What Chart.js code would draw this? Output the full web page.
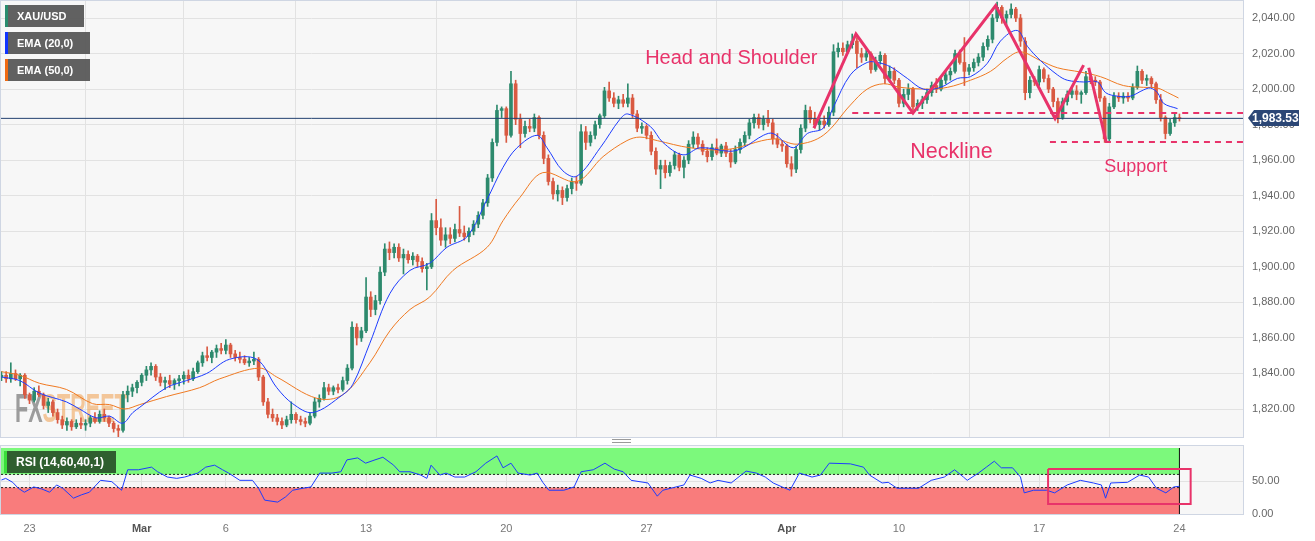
<!DOCTYPE html>
<html>
<head>
<meta charset="utf-8">
<script src="https://cdn.jsdelivr.net/npm/chart.js@4.4.0/dist/chart.umd.min.js"></script>
<style>
  body { margin: 0; background: #fff; width: 1315px; height: 541px; overflow: hidden; }
  #main { position: absolute; left: 0; top: 0; }
  #rsi { position: absolute; left: 0; top: 440px; }
  .grip { position: absolute; left: 612px; top: 439px; width: 19px; height: 2px; border-top: 1px solid #9a9a9a; border-bottom: 1px solid #9a9a9a; }
</style>
</head>
<body>
<canvas id="main" width="1315" height="440"></canvas>
<div class="grip"></div>
<canvas id="rsi" width="1315" height="101"></canvas>
<script>
const FONT = '"Liberation Sans", Arial, sans-serif';

// x = candle index (4h bars, 6 per trading day, index 0 = Feb 22)
const dayTicks = [6, 30, 48, 78, 108, 138, 168, 192, 222, 252];
const dayLabels = ['23', 'Mar', '6', '13', '20', '27', 'Apr', '10', '17', '24'];
const priceTicks = [1820, 1840, 1860, 1880, 1900, 1920, 1940, 1960, 1980, 2000, 2020, 2040];
const rsiTicks = [0, 50];

// one row per trading day
const open = [
  1838,1839,1837,1840,1837,1839,
  1828,1825,1830,1828,1822,1824,
  1818,1814,1811,1813,1810,1812,
  1811,1812,1815,1813,1817,1815,
  1812,1809,1808,1828,1830,1832,
  1835,1839,1842,1844,1838,1835,
  1836,1834,1836,1837,1839,1837,
  1841,1846,1850,1849,1852,1854,
  1853,1856,1851,1849,1848,1846,
  1847,1848,1838,1824,1817,1815,
  1813,1811,1814,1817,1814,1813,
  1812,1816,1824,1826,1832,1830,
  1832,1831,1836,1843,1866,1860,
  1864,1883,1876,1881,1897,1910,
  1908,1911,1905,1907,1904,1906,
  1903,1899,1900,1926,1922,1915,
  1918,1916,1921,1919,1917,1920,
  1924,1929,1936,1950,1970,1988,
  1989,1974,2003,1983,1975,1979,
  1978,1984,1974,1961,1948,1941,
  1943,1939,1944,1948,1947,1976,
  1970,1974,1980,1985,1999,1995,
  1992,1994,1992,1995,1986,1978,
  1979,1974,1965,1955,1957,1953,
  1957,1963,1956,1960,1969,1973,
  1969,1965,1962,1967,1964,1968,
  1964,1959,1966,1970,1974,1981,
  1984,1980,1983,1981,1972,1969,
  1968,1958,1955,1966,1978,1988,
  1983,1980,1982,1980,1987,2021,
  2023,2021,2025,2027,2020,2018,
  2020,2011,2016,2019,2006,2010,
  2005,1992,1997,2000,1990,1992,
  1994,1998,2002,2000,2005,2008,
  2010,2020,2015,2010,2012,2015,
  2018,2024,2028,2040,2046,2040,
  2042,2045,2040,2027,1998,2005,
  2004,2011,2006,2000,1993,1984,
  1993,1997,1999,1997,1998,2007,
  2005,2004,1995,1972,1990,1996,
  1995,1996,1995,2001,2010,2005,
  2006,2003,1994,1984,1975,1981,
  1984
];
const high = [
  1841,1841,1846,1842,1840,1840,
  1829,1832,1833,1829,1826,1825,
  1820,1816,1815,1814,1814,1815,
  1814,1816,1818,1819,1820,1816,
  1813,1811,1830,1833,1834,1836,
  1840,1844,1846,1845,1840,1838,
  1839,1837,1839,1841,1842,1843,
  1847,1852,1855,1853,1856,1857,
  1859,1857,1853,1852,1850,1849,
  1852,1849,1839,1826,1820,1817,
  1815,1816,1824,1818,1816,1815,
  1818,1826,1828,1835,1834,1833,
  1834,1838,1845,1869,1868,1866,
  1894,1886,1884,1900,1913,1914,
  1913,1913,1910,1909,1908,1907,
  1905,1902,1930,1938,1927,1922,
  1922,1924,1934,1923,1922,1926,
  1931,1938,1952,1972,1991,1990,
  1990,2010,2005,1986,1982,1983,
  1986,1985,1976,1963,1950,1946,
  1945,1946,1950,1951,1980,1979,
  1976,1982,1986,2001,2004,1998,
  1996,1997,2003,1997,1988,1981,
  1980,1976,1967,1960,1960,1959,
  1965,1964,1962,1971,1976,1975,
  1971,1967,1969,1972,1969,1970,
  1966,1968,1972,1976,1983,1986,
  1986,1985,1988,1983,1975,1971,
  1969,1962,1968,1980,1991,1990,
  1987,1984,1985,1990,2025,2026,
  2026,2027,2031,2029,2023,2022,
  2021,2018,2021,2020,2013,2012,
  2006,2000,2003,2001,1994,1996,
  2000,2004,2006,2007,2010,2012,
  2022,2022,2029,2014,2017,2020,
  2026,2030,2042,2049,2047,2044,
  2048,2046,2042,2029,2007,2007,
  2013,2012,2008,2001,1995,1995,
  1999,2001,2002,1999,2010,2009,
  2007,2005,1996,1992,1998,1998,
  1998,1998,2003,2013,2011,2008,
  2007,2004,1997,1985,1983,1986,
  1986
];
const low = [
  1836,1835,1835,1836,1833,1826,
  1823,1824,1827,1820,1818,1816,
  1812,1809,1808,1808,1809,1809,
  1808,1810,1812,1812,1813,1810,
  1807,1804,1807,1824,1827,1829,
  1833,1836,1839,1836,1833,1831,
  1832,1831,1833,1834,1835,1836,
  1840,1844,1847,1846,1849,1851,
  1851,1849,1847,1846,1845,1844,
  1845,1836,1822,1815,1813,1811,
  1809,1810,1812,1812,1811,1810,
  1811,1815,1821,1825,1828,1828,
  1829,1830,1834,1842,1856,1858,
  1863,1872,1873,1879,1895,1904,
  1905,1903,1896,1902,1901,1900,
  1897,1887,1899,1918,1912,1911,
  1913,1914,1917,1915,1914,1918,
  1922,1927,1934,1948,1968,1984,
  1970,1973,1980,1967,1973,1976,
  1976,1972,1958,1946,1938,1937,
  1935,1937,1941,1943,1946,1966,
  1968,1972,1978,1984,1993,1990,
  1989,1990,1990,1984,1976,1975,
  1972,1963,1952,1944,1950,1951,
  1955,1954,1950,1958,1967,1967,
  1963,1959,1960,1963,1962,1962,
  1956,1958,1964,1968,1972,1978,
  1978,1977,1979,1969,1967,1965,
  1956,1951,1953,1964,1976,1981,
  1978,1977,1978,1979,1985,2018,
  2019,2020,2023,2012,2015,2016,
  2009,2010,2014,2003,2004,2003,
  1990,1990,1994,1988,1988,1989,
  1992,1996,1998,1999,2003,2005,
  2009,2014,2002,2008,2010,2013,
  2016,2022,2026,2038,2037,2036,
  2040,2038,2024,1994,1995,2002,
  2002,2004,1998,1990,1981,1983,
  1991,1995,1994,1992,1997,2003,
  2002,1993,1970,1971,1989,1993,
  1992,1993,1994,2000,2003,2002,
  2001,1992,1982,1972,1974,1979,
  1982
];
const close = [
  1839,1837,1840,1837,1839,1828,
  1825,1830,1828,1822,1824,1818,
  1814,1811,1813,1810,1812,1811,
  1812,1815,1813,1817,1815,1812,
  1809,1808,1828,1830,1832,1835,
  1839,1842,1844,1838,1835,1836,
  1834,1836,1837,1839,1837,1841,
  1846,1850,1849,1852,1854,1853,
  1856,1851,1849,1848,1846,1847,
  1848,1838,1824,1817,1815,1813,
  1811,1814,1817,1814,1813,1812,
  1816,1824,1826,1832,1830,1832,
  1831,1836,1843,1866,1860,1864,
  1883,1876,1881,1897,1910,1908,
  1911,1905,1907,1904,1906,1903,
  1899,1900,1926,1922,1915,1918,
  1916,1921,1919,1917,1920,1924,
  1929,1936,1950,1970,1988,1989,
  1974,2003,1983,1975,1979,1978,
  1984,1974,1961,1948,1941,1943,
  1939,1944,1948,1947,1976,1970,
  1974,1980,1985,1999,1995,1992,
  1994,1992,1995,1986,1978,1979,
  1974,1965,1955,1957,1953,1957,
  1963,1956,1960,1969,1973,1969,
  1965,1962,1967,1964,1968,1964,
  1959,1966,1970,1974,1981,1984,
  1980,1983,1981,1972,1969,1968,
  1958,1955,1966,1978,1988,1983,
  1980,1982,1980,1987,2021,2023,
  2021,2025,2027,2020,2018,2020,
  2011,2016,2019,2006,2010,2005,
  1992,1997,2000,1990,1992,1994,
  1998,2002,2000,2005,2008,2010,
  2020,2015,2010,2012,2015,2018,
  2024,2028,2040,2046,2040,2042,
  2045,2040,2027,1998,2005,2004,
  2011,2006,2000,1993,1984,1993,
  1997,1999,1997,1998,2007,2005,
  2004,1995,1972,1990,1996,1995,
  1996,1995,2001,2010,2005,2006,
  2003,1994,1984,1975,1981,1984,
  1983.53
];

// moving averages (candle index, price)
const ema20Idx = [0,3.9,8.1,13.9,16.7,20.3,23.1,25.9,28.1,29.6,35.3,39.6,43.9,48.8,54.6,58.9,62.3,66.6,73,75.2,
  78.8,83.1,87.4,91.6,95.3,99.6,103.9,107.3,110.3,114.6,116.7,120.1,123.1,128.1,132.3,134,138.8,141.5,145.8,149.5,
  155.9,158.7,163,165.1,169.4,172.4,175.8,178,181.6,185.2,187.4,190.2,193.8,197.2,200.9,204.5,207.3,210.9,213.7,217.3,
  219.5,222.3,225.9,228,231.5,234.5,236.2,238.8,241.5,244.3,245.8,247.3,248.6,251.6];
const ema20 = [1838,1836,1829,1824,1820,1815,1816,1812,1818,1821,1832,1836,1840,1848,1848,1832,1823,1818,1828,1834,
  1857,1885,1898,1902,1911,1917,1938,1956,1967,1974,1967,1954,1951,1967,1983,1986,1979,1970,1963,1967,
  1965,1967,1974,1975,1967,1975,1978,1990,2008,2015,2015,2012.5,2006,2000,2001,2006,2007,2014.5,2027,2033,
  2024,2016,2008,2005,2004,2004,1998,1996,1996,1999.5,2000.6,1998,1992,1989];
const ema50Idx = [0,3.9,8.1,13.9,19.5,23.1,26.3,29.6,35.3,42.4,46.7,55.2,58.9,67.5,73,78.8,83.1,87.4,91.6,96.6,
  103.9,107.3,110.9,115.8,123.1,128.7,133.8,136.6,140.3,147.3,155.2,165.1,170.2,175.8,181.6,185.2,188.7,192.3,198.1,202.4,
  207.3,211.6,215.2,218,222.3,225.9,230.8,235.1,240,244.3,247.3,249.5,251.8];
const ema50 = [1841,1839,1834.5,1831,1823,1822.5,1820,1822.5,1827,1832,1837,1843,1838,1826,1828,1846,1864,1876,1883,1898,
  1911,1926,1939,1953,1948,1962,1971,1973,1971,1967,1966,1972,1969,1974,1991,2000,2003,2001,2000,2001,
  2005,2010,2017.5,2021,2016,2012,2009.6,2007,2002,2001,2000.6,1998,1995];

const rsiIdx = [0,0.9,2.4,3.6,4.9,6.9,8.6,10.3,11.8,13.1,15.4,17.1,18.8,21.2,23.6,25.7,27,29.3,32.1,33.4,
  35.5,37.5,39.2,42,43.7,45.6,47.3,48.6,51,53.7,55,56.3,59.1,60.8,62.3,64.5,66.2,68.1,70.7,72.6,
  73.9,76.2,77.9,79.9,81.6,83.9,85.2,87.4,89.7,91,91.9,93.8,95.1,97,99.1,101.5,103.6,106,107.3,109,
  110.5,113.1,114.6,115.8,117.1,120.3,122.5,124,126.6,129.1,131.1,133,134.7,138.3,140.3,141.5,144.3,146,147.3,149.7,
  151.6,153.3,156.1,159.3,161.5,163.4,165.1,167,168.7,170.7,173.4,175.2,177.1,181.6,184.4,185.7,188.4,189.7,191.6,194.4,
  196.2,198.9,201.7,203.9,205.8,206.6,209,210.7,212.4,213.9,216.3,218,218.8,220.8,223.6,225.3,228,230.8,233.6,235.3,
  236.2,237.3,240.9,243.5,245.4,247.1,249.1,250.8,252];
const rsi = [51.5,54,48,39,33,41,38,33,44,39,24,29,33,51,49,36,67,67,71,64,
  56,54,56,62,71,74,67,62,51,51,39,21,18,26,36,39,41,62,62,64,
  82,85,77,82,86,74,64,64,59,54,74,59,62,56,56,64,77,88,70,77,
  62,59,62,48,36,36,41,64,67,77,68,64,51,47,27,36,41,44,59,54,
  47,51,47,65,62,56,47,41,36,62,56,59,77,76,71,59,47,48,39,39,
  39,51,56,67,56,51,62,71,80,70,70,56,32,36,36,32,44,51,47,44,
  24,47,48,59,56,39,32,41,42];

const lastPrice = 1983.53;
const neckline = 1986.5;
const support = 1970.2;
const patternIdx = [173.8, 182.8, 195, 212.7, 225.4, 231.5];
const patternPrice = [1978, 2031, 1986.5, 2047, 1983.5, 2013.5];
const breakIdx = [232.6, 236.3];
const breakPrice = [2012, 1970.5];
const rsiUpper = 60, rsiLower = 40;
const rsiBoxIdx = [223.9, 254.4, 254.4, 223.9, 223.9];
const rsiBoxVal = [68, 68, 15, 15, 68];

const notes = [
  { text: 'Head and Shoulder', x: 137.7, y: 2014.1, size: 20 },
  { text: 'Neckline', x: 194.4, y: 1961.2, size: 21.5 },
  { text: 'Support', x: 235.9, y: 1953.3, size: 18 }
];

const UP = '#2d8a6d', DOWN = '#d95a42', PINK = '#e8336a';
const PANEL_BG = '#f7f7f7', GRID = '#e2e2e2', FRAME = '#cfd6e3';
const xMin = -0.1, xMax = 265.6;

const pts = (xs, ys) => xs.map((x, i) => ({ x: x, y: ys[i] }));
const candleColors = close.map((c, i) => c >= open[i] ? UP : DOWN);
const bodies = close.map((c, i) => ({ x: i, y: [open[i], c] }));
const wicks = close.map((c, i) => ({ x: i, y: [low[i], high[i]] }));
const money = v => v.toLocaleString('en-US', { minimumFractionDigits: 2, maximumFractionDigits: 2 });

function xAxis(showLabels) {
  return {
    type: 'linear', min: xMin, max: xMax, offset: false,
    afterBuildTicks: s => { s.ticks = dayTicks.map(v => ({ value: v })); },
    afterFit: s => { s.height = showLabels ? 27 : 0; s.paddingLeft = 0; s.paddingRight = 0; },
    grid: { color: GRID, drawTicks: false },
    border: { display: false },
    ticks: {
      display: showLabels, autoSkip: false, maxRotation: 0, padding: 8,
      callback: v => dayLabels[dayTicks.indexOf(v)],
      color: c => (c.tick && /[A-Z]/.test(c.tick.label)) ? '#555' : '#777',
      font: c => ({ family: FONT, size: 11, weight: (c.tick && /[A-Z]/.test(c.tick.label)) ? 'bold' : 'normal' })
    }
  };
}

function yAxis(min, max, ticks) {
  return {
    type: 'linear', position: 'right', min: min, max: max,
    afterBuildTicks: s => { s.ticks = ticks.map(v => ({ value: v })); },
    afterFit: s => { s.width = 72; s.paddingTop = 0; s.paddingBottom = 0; },
    grid: { color: GRID, drawTicks: false },
    border: { display: false },
    ticks: { padding: 9, color: '#666', font: { family: FONT, size: 11 }, callback: v => money(v) }
  };
}

function tag(ctx, x, y, w, h, stripe, bg, text, size) {
  ctx.fillStyle = bg;
  ctx.fillRect(x, y, w, h);
  ctx.fillStyle = stripe;
  ctx.fillRect(x, y, 3, h);
  ctx.fillStyle = '#fff';
  ctx.font = 'bold ' + size + 'px ' + FONT;
  ctx.textBaseline = 'middle';
  ctx.textAlign = 'left';
  ctx.fillText(text, x + 12, y + h / 2 + 0.5);
}

const mainDecor = {
  id: 'mainDecor',
  beforeDraw(chart) {
    const { ctx, chartArea: a } = chart;
    ctx.save();
    ctx.fillStyle = PANEL_BG;
    ctx.fillRect(a.left, a.top, a.right - a.left, a.bottom - a.top);
    ctx.restore();
  },
  beforeDatasetsDraw(chart) {
    // watermark
    const { ctx, chartArea: a } = chart;
    ctx.save();
    ctx.translate(a.left + 14, a.bottom - 15);
    ctx.scale(0.54, 1);
    ctx.font = 'bold 40px ' + FONT;
    ctx.textBaseline = 'alphabetic';
    ctx.fillStyle = 'rgba(125,125,125,0.75)';
    ctx.fillText('FX', 0, 0);
    const w = ctx.measureText('FX').width;
    ctx.fillStyle = 'rgba(240,165,90,0.6)';
    ctx.fillText('STREET', w, 0);
    ctx.restore();
  },
  afterDatasetsDraw(chart) {
    const { ctx, scales } = chart;
    ctx.save();
    ctx.fillStyle = PINK;
    ctx.textBaseline = 'alphabetic';
    notes.forEach(n => {
      ctx.font = n.size + 'px ' + FONT;
      ctx.fillText(n.text, scales.x.getPixelForValue(n.x), scales.y.getPixelForValue(n.y));
    });
    ctx.restore();
  },
  afterDraw(chart) {
    const { ctx, chartArea: a, scales } = chart;
    ctx.save();
    ctx.strokeStyle = FRAME;
    ctx.lineWidth = 1;
    ctx.strokeRect(a.left - 0.5, a.top - 0.5, a.right - a.left + 1, a.bottom - a.top + 1);

    tag(ctx, 5, 5, 79, 22, '#2a8c6e', 'rgba(88,88,88,0.95)', 'XAU/USD', 11);
    tag(ctx, 5, 32, 85, 22, '#1034ff', 'rgba(88,88,88,0.95)', 'EMA (20,0)', 11);
    tag(ctx, 5, 59, 85, 22, '#f06a12', 'rgba(88,88,88,0.95)', 'EMA (50,0)', 11);

    // last price label
    const y = Math.round(scales.y.getPixelForValue(lastPrice));
    const x0 = a.right + 5;
    ctx.fillStyle = '#2b4675';
    ctx.beginPath();
    ctx.moveTo(x0, y);
    ctx.lineTo(x0 + 6, y - 8);
    ctx.lineTo(x0 + 51, y - 8);
    ctx.lineTo(x0 + 51, y + 8);
    ctx.lineTo(x0 + 6, y + 8);
    ctx.closePath();
    ctx.fill();
    ctx.fillStyle = '#fff';
    ctx.font = 'bold 12px ' + FONT;
    ctx.textBaseline = 'middle';
    ctx.fillText(money(lastPrice), x0 + 4, y + 0.5);
    ctx.restore();
  }
};

const lineBase = { type: 'line', pointRadius: 0, fill: false, tension: 0 };

new Chart(document.getElementById('main'), {
  type: 'bar',
  data: {
    datasets: [
      Object.assign({}, lineBase, { data: pts(patternIdx, patternPrice), borderColor: PINK, borderWidth: 3, order: 0 }),
      Object.assign({}, lineBase, { data: pts(breakIdx, breakPrice), borderColor: PINK, borderWidth: 3, order: 0 }),
      Object.assign({}, lineBase, { data: [{ x: 182.0, y: neckline }, { x: xMax, y: neckline }], borderColor: PINK, borderWidth: 2, borderDash: [6, 5], order: 0 }),
      Object.assign({}, lineBase, { data: [{ x: 224.3, y: support }, { x: xMax, y: support }], borderColor: PINK, borderWidth: 2, borderDash: [6, 5], order: 0 }),
      Object.assign({}, lineBase, { data: [{ x: xMin, y: lastPrice }, { x: xMax, y: lastPrice }], borderColor: '#22406f', borderWidth: 1, order: 1 }),
      Object.assign({}, lineBase, { data: pts(ema20Idx, ema20), borderColor: '#1d3cff', borderWidth: 1, tension: 0.35, order: 1 }),
      Object.assign({}, lineBase, { data: pts(ema50Idx, ema50), borderColor: '#f07a22', borderWidth: 1, tension: 0.35, order: 1 }),
      { type: 'bar', data: bodies, backgroundColor: candleColors, barThickness: 3, grouped: false, order: 2 },
      { type: 'bar', data: wicks, backgroundColor: candleColors, barThickness: 1, grouped: false, order: 3 }
    ]
  },
  options: {
    responsive: false,
    animation: false,
    events: [],
    layout: { padding: { top: 1, left: 1, right: 0, bottom: 3 } },
    plugins: { legend: { display: false }, tooltip: { enabled: false } },
    scales: {
      x: xAxis(false),
      y: yAxis(1804.25, 2049.57, priceTicks)
    }
  },
  plugins: [mainDecor]
});

const rsiDecor = {
  id: 'rsiDecor',
  beforeDraw(chart) {
    const { ctx, chartArea: a } = chart;
    ctx.save();
    ctx.fillStyle = PANEL_BG;
    ctx.fillRect(a.left, a.top - 2, a.right - a.left, a.bottom - a.top + 2);
    ctx.restore();
  },
  afterDraw(chart) {
    const { ctx, chartArea: a } = chart;
    ctx.save();
    ctx.strokeStyle = FRAME;
    ctx.lineWidth = 1;
    ctx.strokeRect(a.left - 0.5, a.top - 2.5, a.right - a.left + 1, a.bottom - a.top + 3);
    tag(ctx, 4, 11, 112, 22, '#3adf3a', '#2f5f2f', 'RSI (14,60,40,1)', 12);
    ctx.restore();
  }
};

new Chart(document.getElementById('rsi'), {
  type: 'line',
  data: {
    datasets: [
      Object.assign({}, lineBase, { data: pts(rsiBoxIdx, rsiBoxVal), borderColor: PINK, borderWidth: 2, order: 0 }),
      Object.assign({}, lineBase, { data: pts(rsiIdx, rsi), borderColor: '#1d3cff', borderWidth: 1, order: 1 }),
      Object.assign({}, lineBase, { data: [{ x: 252, y: 0 }, { x: 252, y: 100 }], borderColor: '#111', borderWidth: 1, order: 2 }),
      Object.assign({}, lineBase, { data: [{ x: xMin, y: rsiUpper }, { x: 252, y: rsiUpper }], borderColor: '#222', borderWidth: 1, borderDash: [2, 2], fill: { value: 100 }, backgroundColor: '#7cf97c', order: 3 }),
      Object.assign({}, lineBase, { data: [{ x: xMin, y: rsiLower }, { x: 252, y: rsiLower }], borderColor: '#222', borderWidth: 1, borderDash: [2, 2], fill: { value: 0 }, backgroundColor: '#f97c7c', order: 3 })
    ]
  },
  options: {
    responsive: false,
    animation: false,
    events: [],
    layout: { padding: { top: 8, left: 1, right: 0, bottom: 0 } },
    plugins: { legend: { display: false }, tooltip: { enabled: false } },
    scales: {
      x: xAxis(true),
      y: yAxis(0, 100, rsiTicks)
    }
  },
  plugins: [rsiDecor]
});
</script>
</body>
</html>
